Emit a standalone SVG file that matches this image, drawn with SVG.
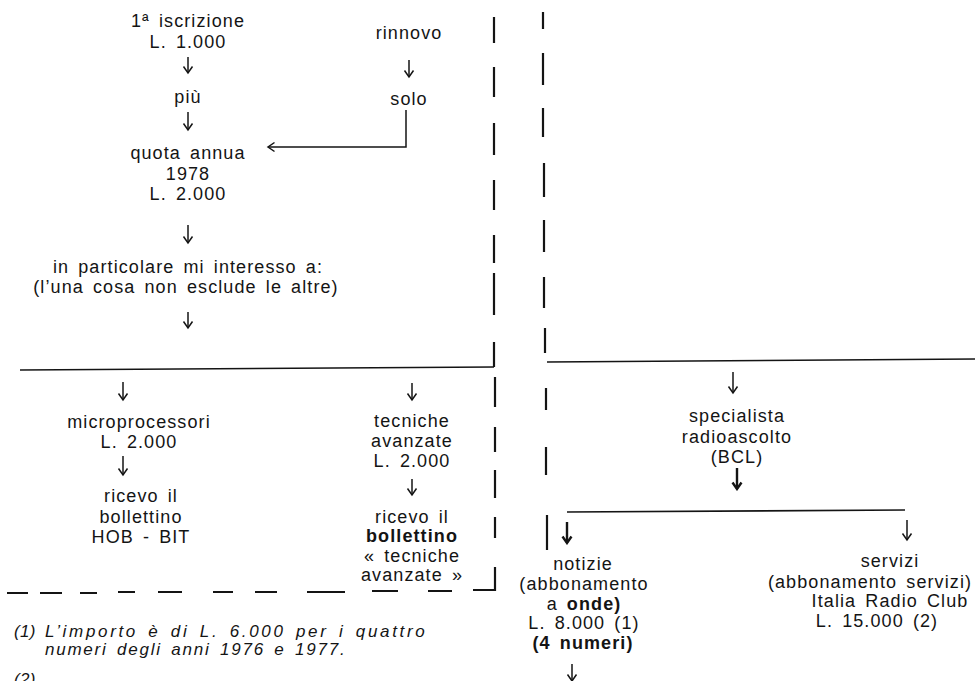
<svg xmlns="http://www.w3.org/2000/svg" width="975" height="681" viewBox="0 0 975 681">
<style>
  text { font-family: "Liberation Sans", Arial, sans-serif; font-size: 18px; letter-spacing: 1.1px; word-spacing: 3px; fill: #141414; text-anchor: middle; }
  .b { font-weight: bold; }
  .fn { font-style: italic; font-size: 17px; text-anchor: start; letter-spacing: 0.3px; }
  .ln { stroke: #141414; stroke-width: 1.6; fill: none; }
  .arr { stroke: #141414; stroke-width: 1.5; fill: none; marker-end: url(#ah); }
  .arrb { stroke: #141414; stroke-width: 2.4; fill: none; marker-end: url(#ahb); }
  .dash { stroke: #141414; stroke-width: 2.2; fill: none; }
</style>
<defs>
  <marker id="ah" markerUnits="userSpaceOnUse" markerWidth="12" markerHeight="12" viewBox="0 0 12 12" refX="10" refY="6" orient="auto">
    <path d="M3.5,1.5 L10,6 L3.5,10.5" fill="none" stroke="#141414" stroke-width="1.5"/>
  </marker>
  <marker id="ahb" markerUnits="userSpaceOnUse" markerWidth="12" markerHeight="12" viewBox="0 0 12 12" refX="10" refY="6" orient="auto">
    <path d="M3.5,1.5 L10,6 L3.5,10.5" fill="none" stroke="#141414" stroke-width="2.4"/>
  </marker>
</defs>
<rect width="975" height="681" fill="#ffffff"/>

<g id="connectors">
  <!-- left column -->
  <line class="arr" x1="188" y1="57" x2="188" y2="73"/>
  <line class="arr" x1="188" y1="112" x2="188" y2="130"/>
  <line class="arr" x1="188" y1="225" x2="188" y2="243"/>
  <line class="arr" x1="188" y1="312" x2="188" y2="328"/>
  <line class="arr" x1="409" y1="60" x2="409" y2="77"/>
  <polyline class="arr" points="406,110 406,147 268,147"/>
  <line class="ln" x1="20" y1="370" x2="494" y2="367"/>
  <line class="arr" x1="123" y1="382" x2="123" y2="400"/>
  <line class="arr" x1="123" y1="456" x2="123" y2="475"/>
  <line class="arr" x1="412" y1="383" x2="412" y2="400"/>
  <line class="arr" x1="412" y1="479" x2="412" y2="495"/>
  <!-- right column -->
  <line class="ln" x1="547" y1="362" x2="975" y2="359"/>
  <line class="arr" x1="733" y1="372" x2="733" y2="393"/>
  <line class="arrb" x1="737" y1="468" x2="737" y2="489"/>
  <line class="ln" x1="567" y1="512" x2="905" y2="510"/>
  <line class="arrb" x1="567" y1="522" x2="567" y2="543"/>
  <line class="arr" x1="907" y1="520" x2="907" y2="540"/>
  <line class="arr" x1="572" y1="664" x2="572" y2="681"/>
  <!-- dashed separators -->
  <path class="dash" d="M494,17 V43 M494,67 V97 M494,123 V155 M494,180 V210 M494,235 V263 M494,273 V315 M494,342 V367 M495,377 V407 M495,427 V452 M495,470 V498 M495,517 V538 M495,567 V591"/>
  <path class="dash" d="M543,12 V29 M543,53 V85 M543,108 V137 M544,163 V197 M544,220 V252 M544,277 V308 M545,328 V353 M546,388 V410 M546,447 V475 M547,515 V550"/>
  <path class="dash" d="M7,593 H28 M40,593 H62 M80,593 H97 M118,592 H135 M158,592 H182 M213,592 H233 M255,592 H277 M307,592 H345 M372,591 H398 M428,591 H452 M473,590 H495"/>
</g>

<g id="n-iscrizione">
  <text x="188" y="27">1ª iscrizione</text>
  <text x="188" y="48">L. 1.000</text>
</g>
<g id="n-piu"><text x="188" y="103">più</text></g>
<g id="n-quota">
  <text x="188" y="159">quota annua</text>
  <text x="188" y="180">1978</text>
  <text x="188" y="200">L. 2.000</text>
</g>
<g id="n-rinnovo"><text x="409" y="39">rinnovo</text></g>
<g id="n-solo"><text x="409" y="105">solo</text></g>
<g id="n-interesso">
  <text x="188" y="273">in particolare mi interesso a:</text>
  <text x="186" y="293">(l’una cosa non esclude le altre)</text>
</g>
<g id="n-micro">
  <text x="139" y="428">microprocessori</text>
  <text x="139" y="448">L. 2.000</text>
</g>
<g id="n-hobbit">
  <text x="141" y="502">ricevo il</text>
  <text x="141" y="523">bollettino</text>
  <text x="141" y="543">HOB - BIT</text>
</g>
<g id="n-tecniche">
  <text x="412" y="427">tecniche</text>
  <text x="412" y="447">avanzate</text>
  <text x="412" y="467">L. 2.000</text>
</g>
<g id="n-bollettino-ta">
  <text x="412" y="523">ricevo il</text>
  <text x="412" y="542" class="b">bollettino</text>
  <text x="412" y="562">« tecniche</text>
  <text x="412" y="581">avanzate »</text>
</g>
<g id="n-bcl">
  <text x="737" y="422">specialista</text>
  <text x="737" y="443">radioascolto</text>
  <text x="737" y="463">(BCL)</text>
</g>
<g id="n-notizie">
  <text x="583" y="570">notizie</text>
  <text x="584" y="590">(abbonamento</text>
  <text x="584" y="610">a <tspan class="b">onde)</tspan></text>
  <text x="584" y="629">L. 8.000 (1)</text>
  <text x="583" y="649" class="b">(4 numeri)</text>
</g>
<g id="n-servizi">
  <text x="890" y="567">servizi</text>
  <text x="870" y="588">(abbonamento servizi)</text>
  <text x="890" y="607">Italia Radio Club</text>
  <text x="877" y="627">L. 15.000 (2)</text>
</g>
<g id="footnotes">
  <text class="fn" x="14" y="637">(1)</text>
  <text class="fn" x="45" y="637" textLength="380" lengthAdjust="spacing">L’importo è di L. 6.000 per i quattro</text>
  <text class="fn" x="45" y="655" textLength="300" lengthAdjust="spacing">numeri degli anni 1976 e 1977.</text>
  <text class="fn" x="14" y="685">(2)</text>
</g>
</svg>
